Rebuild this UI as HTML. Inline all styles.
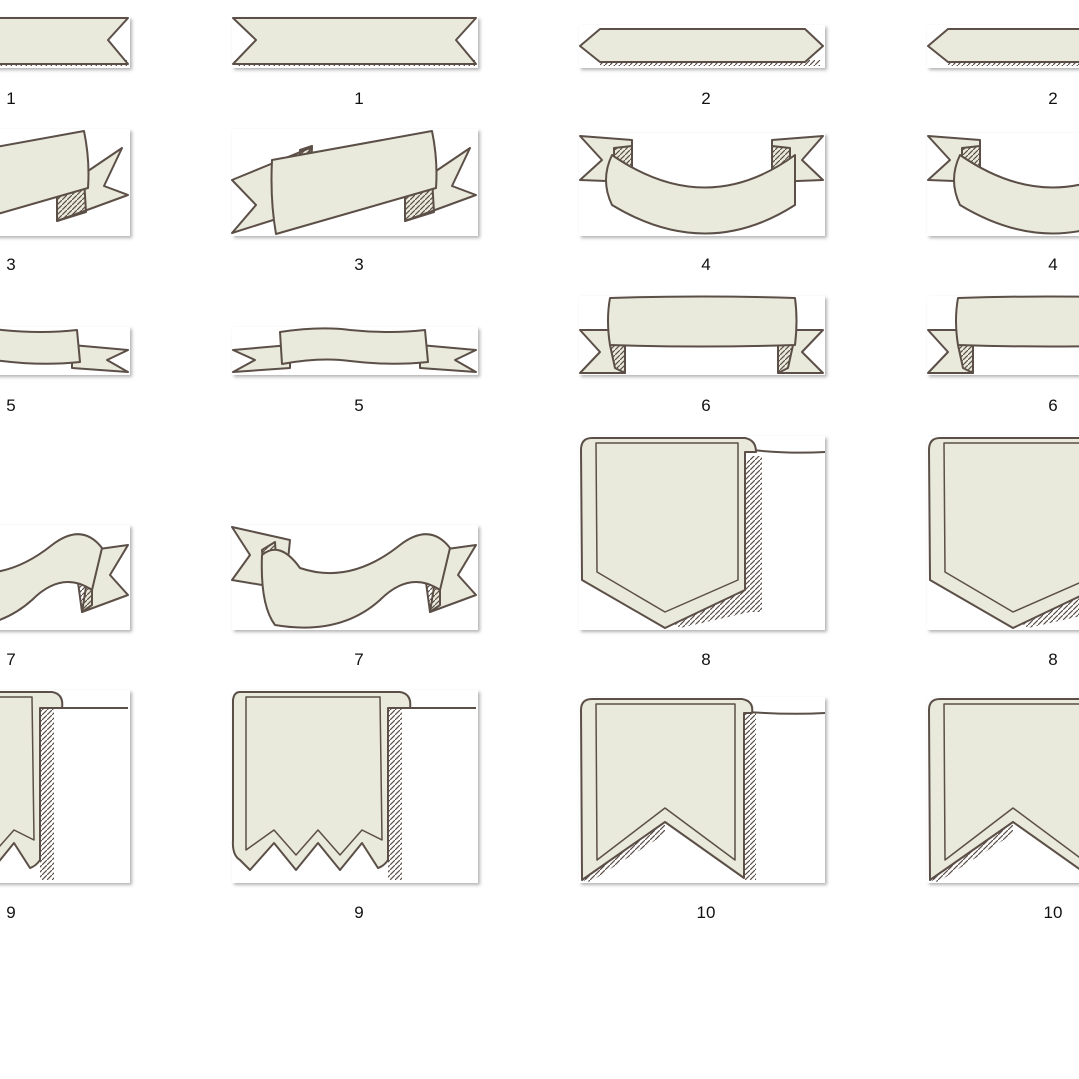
<!DOCTYPE html>
<html><head><meta charset="utf-8"><style>
html,body{margin:0;padding:0;background:#fff;width:1079px;height:1079px;overflow:hidden}
svg{display:block}
text{font-family:"Liberation Sans",sans-serif;font-size:17px;fill:#111;text-anchor:middle}
</style></head><body>
<svg width="1079" height="1079" viewBox="0 0 1079 1079">
<defs>
<pattern id="h" width="5" height="5" patternUnits="userSpaceOnUse"><path d="M0 5L5 0" stroke="#5b4f47" stroke-width="1.2"/></pattern>
<filter id="sh" x="-5%" y="-5%" width="115%" height="120%"><feDropShadow dx="2" dy="2" stdDeviation="1.5" flood-color="#000" flood-opacity="0.3"/></filter>
<g id="c2" stroke="#5b4f47" stroke-width="2" stroke-linejoin="round" fill="#e9e9dc">
 <g fill="#fff" stroke="none" filter="url(#sh)">
  <rect x="232" y="17" width="246" height="51"/>
  <rect x="232" y="129" width="246" height="107"/>
  <rect x="232" y="327" width="246" height="48"/>
  <rect x="232" y="525" width="246" height="105"/>
  <rect x="232" y="690" width="246" height="193"/>
 </g>
 <rect x="236" y="60" width="240" height="6" fill="url(#h)" stroke="none"/>
 <path d="M233 18 L476 18 L456 40 L476 64 L233 64 L256 40 Z"/>
 <path d="M232 180 L310 148 L305 210 L232 233 L256 205 Z"/>
 <path d="M300 150 L312 146 L310 206 L298 210 Z" fill="url(#h)"/>
 <path d="M405 192 L470 148 L452 186 L476 195 L405 221 Z"/>
 <path d="M405 192 L432 178 L434 212 L405 221 Z" fill="url(#h)"/>
 <path d="M272 160 L432 131 Q438 160 436 188 L276 234 Q270 200 272 160 Z"/>
 <path d="M233 350 L290 345 L290 368 L233 372 L255 360 Z"/>
 <path d="M420 345 L476 350 L455 360 L476 372 L420 368 Z"/>
 <path d="M280 332 Q320 326 350 330 Q390 334 425 330 L428 362 Q390 366 350 361 Q320 357 282 364 Z"/>
 <path d="M232 527 L290 540 L285 590 L262 585 L232 580 L250 555 Z"/>
 <path d="M262 550 L275 542 L278 590 L265 588 Z" fill="url(#h)"/>
 <path d="M440 550 L476 545 L458 575 L476 595 L430 612 Z"/>
 <path d="M425 575 L440 560 L440 605 L430 612 Z" fill="url(#h)"/>
 <path d="M262 555 Q280 540 300 568 Q350 585 400 545 Q430 522 450 548 L440 590 Q410 570 380 600 Q340 636 275 625 Q260 605 262 555 Z"/>
 <path d="M388 700 L402 700 L402 880 L388 880 Z" fill="url(#h)" stroke="none"/>
 <path d="M400 708 L476 708" fill="none"/>
 <path d="M240 692 L400 692 Q412 694 410 708 L388 708 L388 860 Q384 866 378 868 L362 843 L340 870 L318 843 L296 870 L274 843 L250 870 L240 860 Q232 855 233 840 L233 700 Q234 692 240 692 Z"/>
 <path d="M246 697 L380 697 L382 840 L362 830 L340 855 L318 830 L296 855 L274 830 L246 850 Z" fill="none" stroke-width="1.5"/>
</g>
<g id="c3" stroke="#5b4f47" stroke-width="2" stroke-linejoin="round" fill="#e9e9dc">
 <g fill="#fff" stroke="none" filter="url(#sh)">
  <rect x="579" y="25" width="246" height="43"/>
  <rect x="579" y="133" width="246" height="103"/>
  <rect x="579" y="296" width="246" height="79"/>
  <rect x="579" y="436" width="246" height="194"/>
  <rect x="579" y="697" width="246" height="186"/>
 </g>
 <rect x="600" y="60" width="220" height="6" fill="url(#h)" stroke="none"/>
 <path d="M580 46 L600 29 L805 29 L823 46 L805 62 L600 62 Z"/>
 <path d="M580 136 L632 140 L632 182 L580 180 L602 160 Z"/>
 <path d="M823 136 L772 140 L772 182 L823 180 L802 160 Z"/>
 <path d="M614 148 L632 146 L632 182 L614 170 Z" fill="url(#h)"/>
 <path d="M790 148 L772 146 L772 182 L790 170 Z" fill="url(#h)"/>
 <path d="M612 155 Q706 220 795 155 L795 205 Q706 262 612 205 Q600 180 612 155 Z"/>
 <path d="M580 330 L625 330 L625 373 L580 373 L600 352 Z"/>
 <path d="M823 330 L778 330 L778 373 L823 373 L802 352 Z"/>
 <path d="M610 345 L625 345 L625 373 L615 368 Z" fill="url(#h)"/>
 <path d="M793 345 L778 345 L778 373 L788 368 Z" fill="url(#h)"/>
 <path d="M610 298 Q700 295 795 298 Q798 320 795 345 Q700 348 610 345 Q606 320 610 298 Z"/>
 <path d="M750 456 L762 456 L762 612 L750 612 L680 628 L672 622 Z" fill="url(#h)" stroke="none"/>
 <path d="M752 450 Q790 454 825 452" fill="none"/>
 <path d="M592 438 L745 438 Q756 440 756 452 L745 452 L745 590 L665 628 L582 580 L581 450 Q581 438 592 438 Z"/>
 <path d="M596 443 L738 443 L738 580 L665 612 L597 572 Z" fill="none" stroke-width="1.5"/>
 <path d="M744 713 L756 713 L756 880 L744 880 Z" fill="url(#h)" stroke="none"/>
 <path d="M748 712 Q790 715 825 713" fill="none"/>
 <path d="M582 880 L665 822 L665 834 L590 882 Z" fill="url(#h)" stroke="none"/>
 <path d="M592 699 L742 699 Q754 701 752 713 L744 713 L744 878 L665 822 L582 880 L581 710 Q581 699 592 699 Z"/>
 <path d="M596 704 L735 704 L735 860 L665 808 L597 860 Z" fill="none" stroke-width="1.5"/>
</g>
</defs>
<use href="#c2"/>
<use href="#c2" transform="translate(-348,0)"/>
<use href="#c3"/>
<use href="#c3" transform="translate(348,0)"/>
<text x="11" y="104">1</text><text x="359" y="104">1</text><text x="706" y="104">2</text><text x="1053" y="104">2</text>
<text x="11" y="270">3</text><text x="359" y="270">3</text><text x="706" y="270">4</text><text x="1053" y="270">4</text>
<text x="11" y="411">5</text><text x="359" y="411">5</text><text x="706" y="411">6</text><text x="1053" y="411">6</text>
<text x="11" y="665">7</text><text x="359" y="665">7</text><text x="706" y="665">8</text><text x="1053" y="665">8</text>
<text x="11" y="918">9</text><text x="359" y="918">9</text><text x="706" y="918">10</text><text x="1053" y="918">10</text>
</svg>
</body></html>
